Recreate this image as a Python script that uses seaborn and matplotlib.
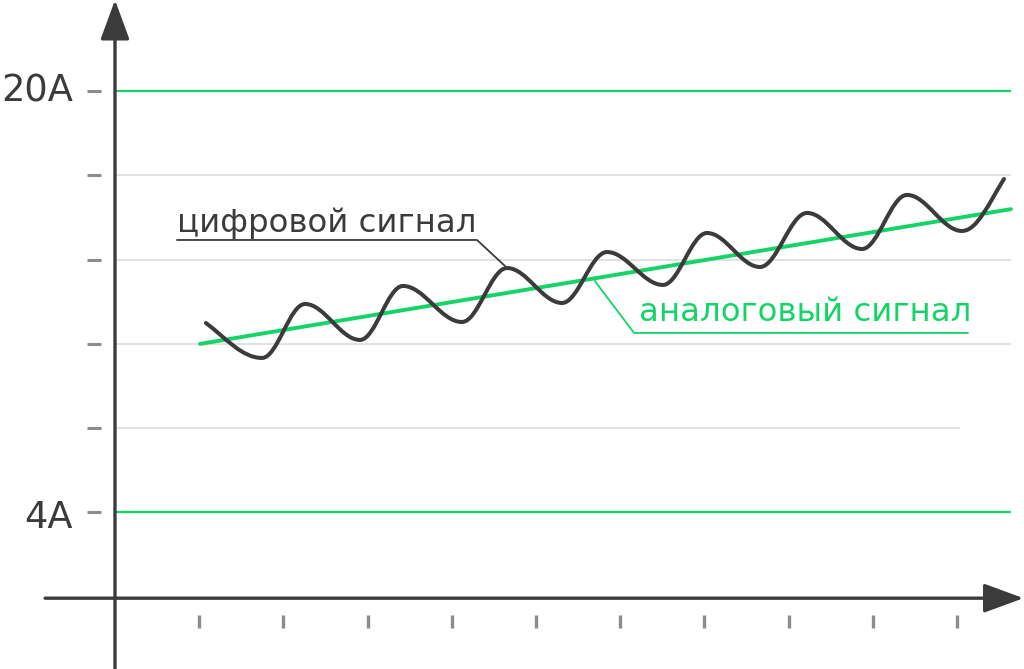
import matplotlib
matplotlib.use('Agg')
import matplotlib.pyplot as plt
from matplotlib.path import Path
from matplotlib.patches import PathPatch
import pandas as pd
import seaborn as sns

# horizontal levels (1 = 4A ... 6 = 20A), where each line stops on the x scale
grid_levels = [1, 2, 3, 4, 5, 6]
grid_ends = [10.64, 10.03, 10.64, 10.64, 10.64, 10.64]
green_levels = [1, 6]
y_labels = {6: '20A', 1: '4A'}
x_ticks = [1, 2, 3, 4, 5, 6, 7, 8, 9, 10]

# analog signal: straight trend line
analog_x = [1.01, 10.64]
analog_y = [3.00, 4.60]

# digital signal: start, peaks / troughs, end
digital_x = [1.080, 1.746, 2.257, 2.910, 3.420, 4.121, 4.656, 5.309, 5.843,
             6.508, 7.031, 7.660, 8.219, 8.872, 9.406, 10.059, 10.558]
digital_y = [3.248, 2.833, 3.474, 3.047, 3.688, 3.260, 3.901, 3.486, 4.091,
             3.700, 4.317, 3.913, 4.555, 4.127, 4.769, 4.341, 4.958]
# slope of the curve at each of those points (flat at the extrema)
digital_slope = [-0.75] + [0.0] * 15 + [1.6]

DARK = '#3b3b3b'
GREEN = '#14d468'
GRID = '#dedede'
TICK = '#8c8c8c'

sns.set_theme(style='white')
plt.rcParams['font.family'] = ['DejaVu Sans']

fig = plt.figure(figsize=(10.24, 6.69), dpi=100)
ax = fig.add_axes([0, 0, 1, 1])
ax.set_xlim(-1.3658, 10.7957)
ax.set_ylim(-0.861, 7.084)
ax.axis('off')

# background lines
for lvl, end in zip(grid_levels, grid_ends):
    is_green = lvl in green_levels
    ax.hlines(lvl, 0, end, color=GREEN if is_green else GRID,
              lw=1.6 if is_green else 1.3, zorder=1)

# y tick dashes and labels
ax.hlines(grid_levels, -0.333, -0.166, color=TICK, lw=2.2, zorder=2)
for lvl, txt in y_labels.items():
    off = -0.06 if lvl == 1 else 0.0
    ax.text(-0.50, lvl + off, txt, ha='right', va='center', fontsize=26.5, color=DARK)

# x tick dashes
ax.vlines(x_ticks, -0.374, -0.22, color=TICK, lw=2.4, zorder=2)

# axes with arrow heads
arrow = dict(arrowstyle='-|>,head_length=2.45,head_width=0.9', mutation_scale=10,
             color=DARK, lw=2.4, shrinkA=0, shrinkB=0)
ax.annotate('', xy=(0, 7.084), xytext=(0, -0.861), arrowprops=arrow, zorder=3)
ax.annotate('', xy=(10.79, -0.02), xytext=(-0.83, -0.02), arrowprops=arrow, zorder=3)

# analog signal
analog = pd.DataFrame({'x': analog_x, 'y': analog_y})
sns.lineplot(data=analog, x='x', y='y', ax=ax, color=GREEN, lw=2.8, zorder=4)

# digital signal: smooth curve through the extrema
verts = [(digital_x[0], digital_y[0])]
codes = [Path.MOVETO]
c = 0.36
for i in range(len(digital_x) - 1):
    x0, y0, s0 = digital_x[i], digital_y[i], digital_slope[i]
    x1, y1, s1 = digital_x[i + 1], digital_y[i + 1], digital_slope[i + 1]
    h = c * (x1 - x0)
    verts += [(x0 + h, y0 + s0 * h), (x1 - h, y1 - s1 * h), (x1, y1)]
    codes += [Path.CURVE4] * 3
ax.add_patch(PathPatch(Path(verts, codes), fill=False, edgecolor=DARK, lw=2.9,
                       capstyle='round', zorder=5))

# labels with leader lines
ax.text(0.736, 4.33, 'цифровой сигнал', ha='left', va='baseline', fontsize=23.3, color=DARK)
ax.plot([0.736, 4.299, 4.632], [4.234, 4.234, 3.925], color=DARK, lw=1.3, zorder=3)

ax.text(6.223, 3.272, 'аналоговый сигнал', ha='left', va='baseline', fontsize=23.3, color=GREEN)
ax.plot([10.131, 6.164, 5.695], [3.130, 3.130, 3.752], color=GREEN, lw=1.3, zorder=3)

fig.savefig('out.png', dpi=100)
